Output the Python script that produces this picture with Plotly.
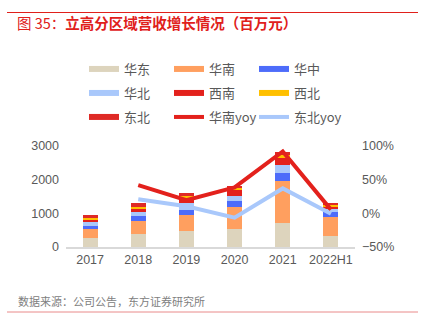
import plotly.graph_objects as go

years = ["2017", "2018", "2019", "2020", "2021", "2022H1"]
east = [260, 390, 480, 530, 700, 330]        # 华东
south = [280, 380, 480, 650, 1250, 570]      # 华南
central = [80, 150, 140, 180, 260, 130]      # 华中
north = [110, 120, 200, 150, 220, 100]       # 华北
southwest = [80, 100, 150, 170, 200, 80]     # 西南
northwest = [60, 60, 60, 70, 100, 50]        # 西北
northeast = [80, 100, 80, 70, 100, 60]       # 东北
yoy_years = ["2018", "2019", "2020", "2021", "2022H1"]
south_yoy = [0.42, 0.195, 0.385, 0.92, 0.055]
northeast_yoy = [0.21, 0.105, -0.065, 0.37, -0.005]

bar_series = [
    ("华东", east, "#ddd4bd", "legend"),
    ("华南", south, "#ff9f5f", "legend"),
    ("华中", central, "#4d6cfa", "legend"),
    ("华北", north, "#a9c8fb", "legend2"),
    ("西南", southwest, "#e3211c", "legend2"),
    ("西北", northwest, "#ffc000", "legend2"),
    ("东北", northeast, "#df2a26", "legend3"),
]

fig = go.Figure()
for name, vals, color, lg in bar_series:
    fig.add_trace(go.Bar(x=years, y=vals, name=name, marker_color=color,
                         marker_line_width=0, showlegend=False))

# legend entries drawn as wide strokes
for name, vals, color, lg in bar_series:
    fig.add_trace(go.Scatter(x=[None], y=[None], mode="lines", name=name,
                             line=dict(color=color, width=6), legend=lg,
                             showlegend=True, hoverinfo="skip"))

fig.add_trace(go.Scatter(x=yoy_years, y=south_yoy, name="华南yoy", mode="lines",
                         line=dict(color="#e3211c", width=4), yaxis="y2",
                         legend="legend3"))
fig.add_trace(go.Scatter(x=yoy_years, y=northeast_yoy, name="东北yoy", mode="lines",
                         line=dict(color="#a9c8fb", width=4), yaxis="y2",
                         legend="legend3", legendwidth=60))

font_family = "Noto Sans CJK SC, Noto Sans, Arial, sans-serif"
tick_font = dict(family="Liberation Sans, Arial, sans-serif", size=12.5, color="#595959")

W, H = 426, 324
L, R, T, B = 66, 71, 146, 77
ph = H - T - B

def py(p):
    return (H - B - p) / ph

pw = W - L - R
def px(p):
    return (p - L) / pw

legend_common = dict(orientation="h", xanchor="left", yanchor="middle",
                     entrywidth=40, entrywidthmode="pixels", traceorder="normal",
                     font=dict(family=font_family, size=13, color="#595959"),
                     bgcolor="rgba(0,0,0,0)", itemclick=False, itemdoubleclick=False)

fig.update_layout(
    width=W, height=H,
    margin=dict(l=L, r=R, t=T, b=B),
    paper_bgcolor="white", plot_bgcolor="white",
    barmode="stack", bargap=0.69,
    font=dict(family=font_family),
    title=dict(text="图 35：<b>立高分区域营收增长情况（百万元）</b>",
               x=17 / W, xanchor="left", xref="container",
               y=1 - 24 / H, yanchor="middle", yref="container",
               font=dict(family=font_family, size=14.5, color="#e0201b")),
    xaxis=dict(showgrid=False, showline=True, linecolor="#d9d9d9", linewidth=2,
               ticks="", tickfont=tick_font, fixedrange=True),
    yaxis=dict(range=[0, 3000], dtick=1000, showgrid=False, zeroline=False,
               showline=False, ticks="", tickfont=tick_font, tickformat="d",
               ticklabelstandoff=6),
    yaxis2=dict(overlaying="y", side="right", range=[-0.5, 1.0], dtick=0.5,
                tickformat=".0%", showgrid=False, zeroline=False, showline=False,
                ticks="", tickfont=tick_font, ticklabelstandoff=6),
    legend=dict(x=px(84), y=py(69), **legend_common),
    legend2=dict(x=px(84), y=py(93), **legend_common),
    legend3=dict(x=px(84), y=py(117), **legend_common),
    shapes=[
        dict(type="line", xref="paper", yref="paper", x0=px(7), x1=px(418),
             y0=py(12.5), y1=py(12.5), line=dict(color="#e0201b", width=1)),
        dict(type="line", xref="paper", yref="paper", x0=px(7), x1=px(418),
             y0=py(312), y1=py(312), line=dict(color="#e98a8a", width=1)),
    ],
    annotations=[
        dict(text="数据来源：公司公告，东方证券研究所", xref="paper", yref="paper",
             x=px(16), y=py(300.5), xanchor="left", yanchor="middle", showarrow=False,
             font=dict(family=font_family, size=11, color="#808080")),
    ],
)

fig.write_html("out.html")
